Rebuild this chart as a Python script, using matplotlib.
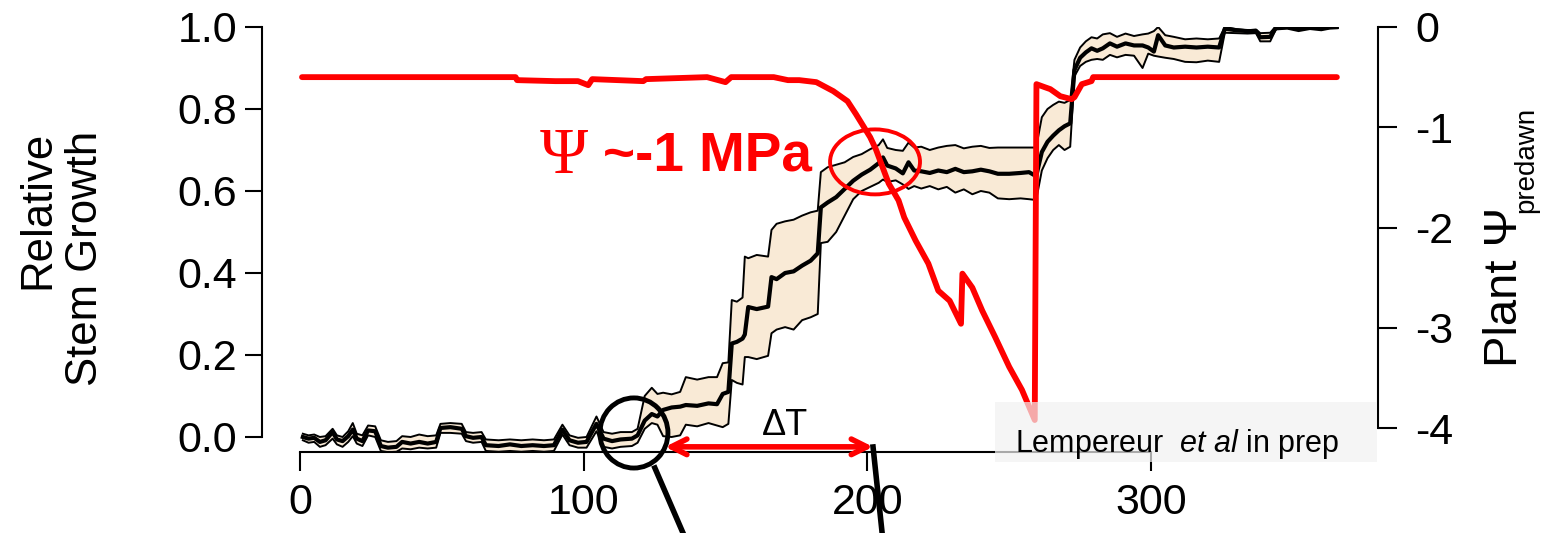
import matplotlib
matplotlib.use("Agg")
import matplotlib.pyplot as plt
from matplotlib.patches import Ellipse, Rectangle

plt.rcParams["font.family"] = ["Liberation Sans", "DejaVu Sans"]
plt.rcParams["mathtext.fontset"] = "custom"
plt.rcParams["mathtext.rm"] = "Liberation Sans"
plt.rcParams["mathtext.it"] = "Liberation Sans:italic"

# ── data ──────────────────────────────────────────────────────────────────────
growth_day = [1, 3, 5, 7, 9, 11.5, 13, 15, 17, 18.6, 20, 22, 24, 26.5, 28.5, 31, 34,
              36, 39, 42, 45, 48, 49.5, 53, 57, 58.5, 61, 64, 65.5, 70, 74, 78, 82,
              86, 89.5, 92.5, 95, 98, 101, 104.5, 107, 110, 113, 117, 119, 121.5,
              124, 126, 128, 131, 134, 136, 140, 144, 147, 149, 151, 152.2, 154,
              156, 156.8, 158, 161, 165, 166.2, 168, 171, 174, 177, 180, 182.5,
              183.6, 186, 189, 192, 195, 198, 201, 204, 205.5, 207, 210, 212.5,
              214.5, 216.5, 219, 222, 225, 228, 231, 234, 237, 240, 243, 246, 250,
              254, 257, 259.5, 261.5, 263.5, 265.5, 267.5, 269.5, 271.5, 273, 275,
              277, 279, 281, 283, 285.5, 288, 291, 294, 297, 299, 301, 302.5, 305,
              308, 312, 316, 320, 324, 326, 330, 334, 337, 338.5, 342, 344, 348,
              352, 356, 360, 363, 365.5]
growth_mean = [0.000, -0.004, -0.002, -0.012, -0.008, 0.012, -0.006, -0.010, 0.002,
               0.018, -0.004, -0.010, 0.016, 0.014, -0.022, -0.026, -0.024, -0.012,
               -0.016, -0.012, -0.016, -0.012, 0.022, 0.024, 0.020, 0.002, -0.002,
               0.000, -0.020, -0.022, -0.018, -0.022, -0.020, -0.022, -0.020, 0.018,
               -0.008, -0.014, -0.012, 0.032, -0.004, -0.010, -0.006, -0.004, 0.004,
               0.040, 0.056, 0.050, 0.066, 0.072, 0.074, 0.078, 0.076, 0.082, 0.080,
               0.105, 0.110, 0.228, 0.232, 0.240, 0.250, 0.317, 0.312, 0.318, 0.390,
               0.385, 0.400, 0.404, 0.418, 0.430, 0.448, 0.560, 0.572, 0.585, 0.605,
               0.625, 0.640, 0.652, 0.668, 0.682, 0.662, 0.655, 0.643, 0.670, 0.650,
               0.648, 0.644, 0.650, 0.646, 0.654, 0.646, 0.648, 0.652, 0.648, 0.642,
               0.642, 0.644, 0.646, 0.636, 0.695, 0.720, 0.735, 0.748, 0.758, 0.765,
               0.895, 0.925, 0.938, 0.948, 0.942, 0.948, 0.960, 0.952, 0.960, 0.955,
               0.955, 0.950, 0.940, 0.980, 0.955, 0.950, 0.952, 0.950, 0.952, 0.950,
               0.996, 0.992, 0.990, 0.990, 0.975, 0.976, 0.998, 1.000, 0.996, 1.000,
               0.997, 1.000, 1.000]
growth_upper = [0.008, 0.004, 0.006, 0.000, 0.002, 0.020, 0.004, 0.000, 0.014, 0.034,
                0.008, 0.004, 0.028, 0.026, -0.008, -0.012, -0.010, 0.002, 0.000,
                0.006, 0.002, 0.004, 0.032, 0.034, 0.032, 0.012, 0.010, 0.012,
                -0.006, -0.008, -0.006, -0.008, -0.006, -0.008, -0.006, 0.030, 0.004,
                -0.002, 0.000, 0.050, 0.012, 0.008, 0.012, 0.012, 0.020, 0.100,
                0.120, 0.105, 0.108, 0.104, 0.110, 0.146, 0.140, 0.146, 0.146, 0.180,
                0.182, 0.334, 0.330, 0.340, 0.440, 0.436, 0.444, 0.440, 0.505, 0.520,
                0.526, 0.530, 0.540, 0.548, 0.552, 0.646, 0.658, 0.664, 0.670, 0.683,
                0.690, 0.702, 0.712, 0.726, 0.705, 0.700, 0.698, 0.718, 0.706, 0.708,
                0.700, 0.706, 0.710, 0.712, 0.704, 0.708, 0.710, 0.705, 0.706, 0.706,
                0.706, 0.706, 0.706, 0.780, 0.800, 0.810, 0.818, 0.815, 0.822, 0.920,
                0.950, 0.965, 0.975, 0.972, 0.982, 0.985, 0.976, 0.984, 0.978, 0.982,
                0.984, 0.990, 1.000, 0.980, 0.976, 0.970, 0.972, 0.970, 0.972, 1.000,
                0.995, 0.992, 0.994, 0.985, 0.986, 1.002, 1.003, 1.001, 1.003, 1.002,
                1.003, 1.003]
growth_lower = [-0.008, -0.014, -0.012, -0.024, -0.020, -0.004, -0.018, -0.024,
                -0.012, 0.002, -0.016, -0.022, 0.004, 0.000, -0.034, -0.037, -0.036,
                -0.028, -0.030, -0.026, -0.028, -0.026, 0.010, 0.010, 0.008, -0.010,
                -0.014, -0.012, -0.034, -0.036, -0.034, -0.036, -0.034, -0.036,
                -0.034, 0.006, -0.020, -0.026, -0.026, 0.014, -0.024, -0.028, -0.024,
                -0.022, -0.014, 0.020, 0.034, 0.030, 0.002, 0.000, 0.004, 0.030,
                0.026, 0.034, 0.028, 0.024, 0.032, 0.139, 0.132, 0.128, 0.195, 0.195,
                0.190, 0.198, 0.253, 0.262, 0.268, 0.262, 0.285, 0.292, 0.300, 0.473,
                0.476, 0.500, 0.540, 0.580, 0.600, 0.610, 0.620, 0.628, 0.622, 0.626,
                0.616, 0.605, 0.612, 0.606, 0.612, 0.604, 0.610, 0.596, 0.604, 0.592,
                0.600, 0.596, 0.582, 0.580, 0.582, 0.580, 0.578, 0.650, 0.680, 0.700,
                0.712, 0.700, 0.708, 0.880, 0.905, 0.915, 0.920, 0.922, 0.920, 0.932,
                0.926, 0.932, 0.930, 0.900, 0.935, 0.930, 0.928, 0.925, 0.922, 0.915,
                0.914, 0.918, 0.915, 0.986, 0.985, 0.984, 0.985, 0.965, 0.965, 0.994,
                0.996, 0.990, 0.995, 0.992, 0.996, 0.997]

psi_day = [0.7, 76, 76.5, 90, 98, 101.6, 103, 121, 122, 143.5, 150, 152, 167, 172,
           176, 182, 188, 193, 196, 198.5, 201, 203, 207.5, 211, 213, 217, 221.5,
           225, 229, 233, 233.5, 237, 240.5, 245, 250, 254.5, 259, 259.6, 262.5,
           264.5, 268, 272, 273, 275.6, 279, 279.6, 365.5]
psi_predawn = [-0.50, -0.50, -0.53, -0.54, -0.54, -0.58, -0.52, -0.54, -0.52, -0.50,
               -0.55, -0.50, -0.50, -0.53, -0.53, -0.55, -0.64, -0.74, -0.87, -0.985,
               -1.10, -1.22, -1.56, -1.73, -1.90, -2.13, -2.36, -2.63, -2.73, -2.96,
               -2.46, -2.60, -2.83, -3.09, -3.39, -3.62, -3.92, -0.57, -0.60, -0.62,
               -0.69, -0.72, -0.70, -0.57, -0.54, -0.50, -0.50]

x_ticks = [0, 100, 200, 300]
left_ticks = [0.0, 0.2, 0.4, 0.6, 0.8, 1.0]
right_ticks = [0, -1, -2, -3, -4]

W, H = 1547, 533
fig = plt.figure(figsize=(W / 100, H / 100), dpi=100)
ax = fig.add_axes([262 / W, 1 - 452 / H, 1116 / W, 425 / H])
ax2 = ax.twinx()

# ── growth band ───────────────────────────────────────────────────────────────
ax.fill_between(growth_day, growth_lower, growth_upper, color="#F9EAD6", lw=0)
ax.plot(growth_day, growth_upper, color="black", lw=1.4)
ax.plot(growth_day, growth_lower, color="black", lw=1.4)
ax.plot(growth_day, growth_mean, color="black", lw=3)

ax.set_xlim(-13.4, 380)
ax.set_ylim(-0.0366, 1.0)
ax.set_xticks(x_ticks)
ax.set_yticks(left_ticks)
ax.set_yticklabels([f"{v:.1f}" for v in left_ticks])
ax.spines[["top", "right"]].set_visible(False)
ax.spines["left"].set_bounds(0, 1)
ax.spines["bottom"].set_bounds(0, 300)
for s in ["left", "bottom"]:
    ax.spines[s].set_linewidth(1.5)
ax.tick_params(axis="y", labelsize=31, length=12, width=1.5, pad=6)
ax.tick_params(axis="x", labelsize=31, length=14, width=1.5, pad=8)

# ── predawn water potential ───────────────────────────────────────────────────
ax2.plot(psi_day, psi_predawn, color="red", lw=4.2, solid_capstyle="round")
ax2.set_ylim(-4.239, -0.00995)
ax2.set_yticks(right_ticks)
ax2.set_yticklabels([str(v) for v in right_ticks])
for s in ["top", "left", "bottom"]:
    ax2.spines[s].set_visible(False)
ax2.spines["right"].set_bounds(-4, 0)
ax2.spines["right"].set_linewidth(1.5)
ax2.tick_params(axis="y", labelsize=31, length=14, width=1.5, pad=13)

# ── annotations ───────────────────────────────────────────────────────────────
ax2.add_patch(Ellipse((202.7, 0.671), 31.7, 0.1585, transform=ax.transData,
                      fill=False, edgecolor="red", lw=2.8, zorder=5))
ax2.add_patch(Ellipse((117.7, 0.0098), 24.0, 0.171, transform=ax.transData,
                      fill=False, edgecolor="black", lw=3.5, zorder=5, clip_on=False))
ax2.plot([125.1, 135.0], [-0.0756, -0.234], transform=ax.transData,
         color="black", lw=4, clip_on=False, zorder=5)
ax2.plot([202.0, 205.2], [-0.0244, -0.234], transform=ax.transData,
         color="black", lw=4, clip_on=False, zorder=5)
ax2.annotate("", xy=(202.0, -0.024), xytext=(128.7, -0.024),
             xycoords=ax.transData, textcoords=ax.transData,
             arrowprops=dict(arrowstyle="<->", color="red", lw=4,
                             mutation_scale=28, shrinkA=0, shrinkB=0),
             annotation_clip=False, zorder=6)
ax2.text(171, 0.029, "ΔT", transform=ax.transData, fontsize=26,
         ha="center", va="center", zorder=6)

fig.text(540 / W, 1 - 173 / H, "Ψ", color="red", fontsize=47,
         family="Liberation Serif", ha="left", va="baseline")
fig.text(603 / W, 1 - 171 / H, "~-1 MPa", color="red", fontsize=39.5,
         fontweight="bold", ha="left", va="baseline")

fig.add_artist(Rectangle((995 / W, 1 - 462 / H), 382 / W, 60 / H,
                         transform=fig.transFigure, facecolor="#F2F2F2",
                         edgecolor="none", alpha=0.7, zorder=3))
fig.text(1015 / W, 1 - 452 / H, r"Lempereur  $\mathit{et\ al}$ in prep",
         fontsize=22, ha="left", va="baseline", zorder=4)

# ── axis titles ───────────────────────────────────────────────────────────────
fig.text(62 / W, 1 - 258 / H, "Relative\nStem Growth", rotation=90,
         fontsize=31.5, ha="center", va="center", multialignment="right")
fig.text(1505 / W, 1 - 367 / H, "Plant Ψ", rotation=90, fontsize=34,
         ha="center", va="bottom")
fig.text(1526 / W, 1 - 213 / H, "predawn", rotation=90, fontsize=20,
         ha="center", va="bottom")

fig.savefig("out.png", dpi=100)
